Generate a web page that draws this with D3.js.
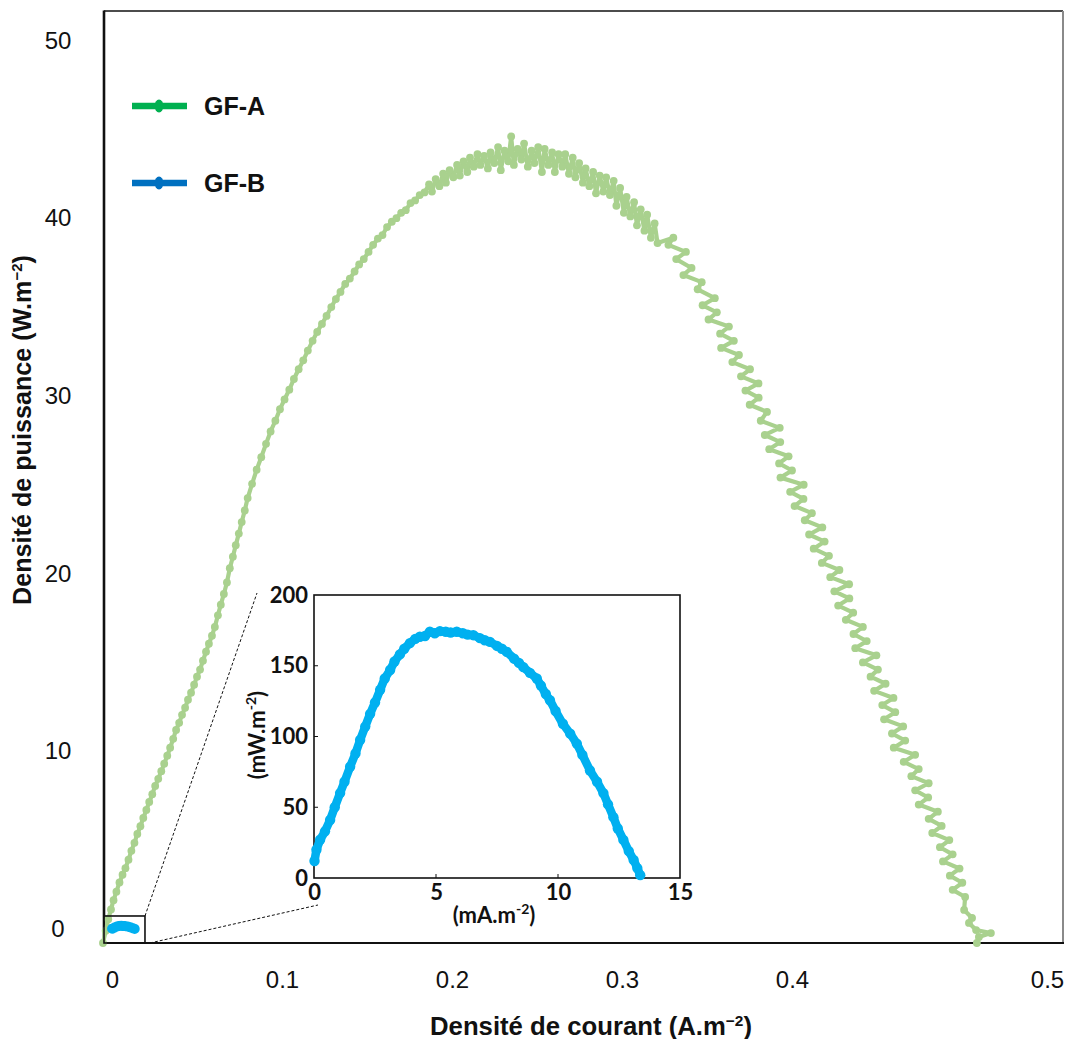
<!DOCTYPE html>
<html><head><meta charset="utf-8">
<script src="https://cdn.jsdelivr.net/npm/d3@7"></script>
<style>body{margin:0;background:#fff}svg{display:block}</style>
</head><body><svg id="c" width="1069" height="1039"></svg>
<script>
// ---- data ----
const xTicks = [0, 0.1, 0.2, 0.3, 0.4, 0.5];
const yTicks = [0, 10, 20, 30, 40, 50];
const insetXTicks = [0, 5, 10, 15];
const insetYTicks = [0, 50, 100, 150, 200];
const seriesNames = ["GF-A", "GF-B"];

// GF-A : current density (A.m-2) / power density (W.m-2)
const gfaCurrent = [
-0.0053,-0.0037,-0.0022,-0.0006,0.0009,0.0026,0.0044,0.0062,0.0079,0.0097,0.0114,0.0132,0.0149,0.0167,0.0184,0.0202,0.0219,0.0237,0.0254,0.0272,0.0290,0.0307,0.0325,0.0342,0.0360,0.0377,0.0395,0.0412,0.0430,0.0447,0.0465,0.0483,0.0500,0.0518,0.0535,0.0553,0.0570,0.0588,0.0605,0.0623,0.0640,0.0658,0.0676,0.0693,0.0711,0.0728,0.0746,0.0763,0.0781,0.0798,0.0824,0.0851,0.0878,0.0906,0.0933,0.0961,0.0988,0.1015,0.1043,0.1070,0.1098,0.1125,0.1152,0.1180,0.1207,0.1235,0.1262,0.1290,0.1317,0.1344,0.1372,0.1399,0.1427,0.1454,0.1481,0.1509,0.1536,0.1564,0.1591,0.1618,0.1646,0.1673,0.1701,0.1728,0.1756,0.1783,0.1810,0.1838,
0.1865,0.1882,0.1904,0.1926,0.1948,0.1964,0.1986,0.2008,0.2030,0.2046,0.2068,0.2090,0.2106,0.2128,0.2150,0.2167,0.2189,0.2211,0.2227,0.2249,0.2271,0.2287,0.2309,0.2331,0.2348,0.2364,0.2386,0.2408,0.2424,0.2446,0.2468,0.2485,0.2507,0.2529,0.2545,0.2567,0.2589,0.2605,0.2627,0.2649,0.2666,0.2688,0.2710,0.2726,0.2748,0.2770,0.2786,0.2808,0.2830,0.2847,0.2869,0.2890,0.2907,0.2929,0.2951,0.2967,0.2989,0.3011,0.3027,0.3049,0.3071,0.3088,0.3110,0.3132,0.3148,0.3170,0.3192,0.3209,
0.3302,0.3273,0.3376,0.3319,0.3409,0.3361,0.3469,0.3445,0.3546,0.3474,0.3558,0.3509,0.3629,0.3577,0.3658,0.3583,0.3688,0.3649,0.3753,0.3700,0.3803,0.3726,0.3804,0.3751,0.3853,0.3816,0.3928,0.3840,0.3931,0.3866,0.3980,0.3924,0.4000,0.3932,0.4046,0.3989,0.4045,0.4010,0.4078,0.4050,0.4119,0.4067,0.4128,0.4085,0.4145,0.4117,0.4186,0.4150,0.4224,0.4166,0.4225,0.4181,0.4240,0.4211,0.4278,0.4241,0.4293,0.4248,0.4331,0.4278,0.4337,0.4308,0.4367,0.4322,0.4398,0.4354,0.4405,0.4361,0.4436,0.4392,0.4444,0.4399,0.4483,0.4438,0.4497,0.4468,0.4536,0.4483,0.4534,0.4497,0.4572,0.4536,0.4587,0.4550,0.4617,0.4580,0.4630,0.4592,0.4657,0.4619,0.4668,0.4630,0.4679,0.4675,0.4706,0.4694,0.4722,0.4780,0.4733,0.4725];
const gfaPower = [
-0.79,-0.10,0.55,1.10,1.62,2.10,2.62,3.05,3.42,3.90,4.40,4.85,5.35,5.78,6.25,6.70,7.15,7.58,8.05,8.45,8.88,9.30,9.75,10.20,10.70,11.20,11.60,12.05,12.45,12.90,13.30,13.75,14.20,14.60,15.10,15.60,16.05,16.50,17.00,17.65,18.25,18.85,19.50,20.30,20.95,21.60,22.25,22.90,23.55,24.25,25.05,25.85,26.55,27.30,28.00,28.60,29.25,29.80,30.35,30.95,31.50,32.00,32.55,33.10,33.60,34.05,34.50,35.00,35.45,35.85,36.30,36.60,37.00,37.40,37.70,38.10,38.50,38.85,39.05,39.50,39.80,40.00,40.30,40.45,40.85,41.00,41.30,41.45,
41.9,41.5,42.2,41.8,42.5,42.0,42.7,42.3,43.0,42.4,43.2,42.6,43.4,42.9,43.6,43.0,43.5,42.8,43.7,43.1,44.0,42.7,43.8,43.2,44.6,43.0,43.9,43.3,44.2,42.9,43.8,43.1,44.0,42.6,43.9,43.0,43.7,42.6,43.6,42.9,43.6,42.5,43.4,42.3,43.1,42.0,42.8,41.8,42.6,41.4,42.4,41.5,42.3,41.3,42.1,40.7,41.7,40.3,41.2,40.1,40.9,39.6,40.5,39.3,40.2,38.9,39.7,38.6,
38.9,38.5,38.1,37.7,37.2,36.8,36.4,36.0,35.5,35.1,34.7,34.3,33.9,33.5,33.1,32.7,32.3,31.9,31.5,31.1,30.7,30.3,29.9,29.5,29.1,28.6,28.2,27.8,27.4,27.0,26.6,26.2,25.8,25.4,25.0,24.6,24.2,23.8,23.4,23.0,22.6,22.2,21.8,21.4,21.0,20.6,20.2,19.8,19.4,19.0,18.6,18.2,17.8,17.4,17.0,16.6,16.2,15.8,15.4,15.0,14.6,14.2,13.8,13.4,13.0,12.6,12.2,11.8,11.4,11.0,10.6,10.2,9.8,9.4,9.0,8.6,8.2,7.8,7.4,7.0,6.6,6.2,5.8,5.4,5.0,4.6,4.2,3.8,3.4,3.0,2.6,2.2,1.8,1.07,0.62,0.34,-0.06,-0.23,-0.45,-0.79];

// GF-B : current density (mA.m-2) / power density (mW.m-2)
const gfbCurrent = [0.02,0.1,0.25,0.45,0.66,0.85,1.07,1.25,1.48,1.7,1.89,2.1,2.3,2.5,2.71,2.9,3.12,3.3,3.52,3.7,3.93,4.15,4.34,4.55,4.75,4.95,5.16,5.4,5.6,5.85,6.1,6.3,6.53,6.8,7.0,7.21,7.5,7.7,7.9,8.2,8.4,8.58,8.85,9.13,9.3,9.5,9.67,9.9,10.2,10.5,10.77,11.0,11.31,11.6,11.86,12.05,12.27,12.45,12.68,12.9,13.1,13.25,13.37];
const gfbPower = [12,20,27,33,41,50,60,68,78.6,88,97.5,107,116,124,133,141,147,153,158,162,166,169,170.5,171,174,173,174.5,174,173.5,174,173,172,171.6,169.5,168,166.9,164,162,159.8,155,152,149,145,141,136,130,125.6,118,109,102,95,87,76,68,60,52,43,35,26.9,19,12.7,7,2];

// ---- layout ----
const svg = d3.select("#c");
const M = {l:104, r:1063, t:11, b:943};
// the printed x tick labels are not evenly spaced: polylinear scale through them
const x = d3.scaleLinear().domain([-0.0047, 0, 0.4, 0.5, 0.5063]).range([M.l, 112, 792, 1047, M.r]);
const y = d3.scaleLinear().domain([-0.79, 51.66]).range([M.b, M.t]);

const green = "#a9d18e", blue = "#00b0f0";
const legendColors = ["#00b050", "#0070c0"];
const sans = "'Liberation Sans', Arial, sans-serif";

// frame
svg.append("line").attr("x1",M.l).attr("x2",M.r).attr("y1",M.t).attr("y2",M.t).attr("stroke","#111").attr("stroke-width",1.5);
svg.append("line").attr("x1",M.r).attr("x2",M.r).attr("y1",M.t).attr("y2",M.b).attr("stroke","#8a8a8a").attr("stroke-width",2);
svg.append("line").attr("x1",M.l).attr("x2",M.r+1).attr("y1",M.b).attr("y2",M.b).attr("stroke","#111").attr("stroke-width",2);
svg.append("line").attr("x1",M.l).attr("x2",M.l).attr("y1",M.t-0.5).attr("y2",M.b+1).attr("stroke","#111").attr("stroke-width",2.6);

// axes (labels only)
const fmt = d => String(d);
const gx = svg.append("g").attr("transform",`translate(0,${M.b})`)
  .call(d3.axisBottom(x).tickValues(xTicks).tickFormat(fmt).tickSize(0).tickPadding(28));
gx.select(".domain").remove();
gx.selectAll("text").attr("font-family",sans).attr("font-size",24).attr("fill","#111");
const gy = svg.append("g").attr("transform",`translate(${M.l},0)`)
  .call(d3.axisLeft(y).tickValues(yTicks).tickFormat(fmt).tickSize(0));
gy.select(".domain").remove();
gy.selectAll("text").attr("font-family",sans).attr("font-size",24).attr("fill","#111")
  .attr("text-anchor","middle").attr("x",-46);

// axis titles
function supTitle(g, main, tail, target){
  const t = g.append("text").attr("font-family",sans).attr("font-weight","bold")
    .attr("font-size",25).attr("fill","#111").attr("text-anchor","middle");
  t.append("tspan").text(main);
  t.append("tspan").attr("dy",-9).attr("font-size",15).text("\u22122");
  t.append("tspan").attr("dy",9).text(tail);
  const len = t.node().getComputedTextLength();
  t.attr("transform",`scale(${target/len},1)`);
  return t;
}
supTitle(svg.append("g").attr("transform","translate(591,1035)"),"Densité de courant (A.m",")",322);
supTitle(svg.append("g").attr("transform","translate(31,430) rotate(-90)"),"Densité de puissance (W.m",")",350);

// GF-A series
const nA = Math.min(gfaCurrent.length, gfaPower.length);
const gfa = d3.range(nA).map(i=>({c:gfaCurrent[i], p:gfaPower[i]}));
const line = d3.line().x(d=>x(d.c)).y(d=>y(d.p));
svg.append("path").datum(gfa).attr("d",line).attr("fill","none").attr("stroke",green).attr("stroke-width",4.2).attr("stroke-linejoin","round");
svg.append("g").selectAll("circle").data(gfa).join("circle").attr("cx",d=>x(d.c)).attr("cy",d=>y(d.p)).attr("r",3.9).attr("fill",green);

// GF-B on main axes (A.m-2, W.m-2)
const gfbMain = gfbCurrent.map((c,i)=>({c:c/1000, p:gfbPower[i]/1000}));
svg.append("path").datum(gfbMain).attr("d",line).attr("fill","none").attr("stroke",blue).attr("stroke-width",10).attr("stroke-linecap","round").attr("stroke-linejoin","round");

// zoom box + dashed connectors
const boxC = [-0.0047, 0.0194], boxP = [-0.79, 0.73];
svg.append("rect").attr("x",x(boxC[0])).attr("y",y(boxP[1])).attr("width",x(boxC[1])-x(boxC[0])).attr("height",y(boxP[0])-y(boxP[1]))
  .attr("fill","none").attr("stroke","#111").attr("stroke-width",1.6);

// inset
const I = {l:314, r:680, t:595, b:878};
const ix = d3.scaleLinear().domain([0,15]).range([I.l, I.r]);
const iy = d3.scaleLinear().domain([0,200]).range([I.b, I.t]);
svg.append("line").attr("x1",x(boxC[1])).attr("y1",y(boxP[1])).attr("x2",257).attr("y2",593)
  .attr("stroke","#111").attr("stroke-width",1).attr("stroke-dasharray","3,2");
svg.append("line").attr("x1",x(boxC[1])+5).attr("y1",y(boxP[0])).attr("x2",I.l+4).attr("y2",905)
  .attr("stroke","#111").attr("stroke-width",1).attr("stroke-dasharray","3,2");

const ig = svg.append("g");
ig.append("rect").attr("x",I.l).attr("y",I.t).attr("width",I.r-I.l).attr("height",I.b-I.t).attr("fill","#fff").attr("stroke","#111").attr("stroke-width",1.6);
const gfb = gfbCurrent.map((c,i)=>({c, p:gfbPower[i]}));
const iline = d3.line().x(d=>ix(d.c)).y(d=>iy(d.p));
ig.append("path").datum(gfb).attr("d",iline).attr("fill","none").attr("stroke",blue).attr("stroke-width",8.5).attr("stroke-linejoin","round");
ig.append("g").selectAll("circle").data(gfb).join("circle").attr("cx",d=>ix(d.c)).attr("cy",d=>iy(d.p)).attr("r",5.2).attr("fill",blue);

const ifont = "Lato, 'Open Sans', sans-serif";
const igx = ig.append("g").attr("transform",`translate(0,${I.b})`).call(d3.axisBottom(ix).tickValues(insetXTicks).tickSize(0).tickPadding(6));
igx.select(".domain").remove();
igx.selectAll("text").attr("font-family",ifont).attr("font-weight","bold").attr("font-size",22).attr("fill","#111");
const igy = ig.append("g").attr("transform",`translate(${I.l},0)`).call(d3.axisLeft(iy).tickValues(insetYTicks).tickSize(0).tickPadding(6));
igy.select(".domain").remove();
igy.selectAll("text").attr("font-family",ifont).attr("font-weight","bold").attr("font-size",22).attr("fill","#111");
// inner ticks
ig.append("g").selectAll("line").data(insetYTicks.slice(1,-1)).join("line").attr("x1",I.l).attr("x2",I.l+4).attr("y1",d=>iy(d)).attr("y2",d=>iy(d)).attr("stroke","#111");
ig.append("g").selectAll("line").data(insetXTicks.slice(1,-1)).join("line").attr("y1",I.b).attr("y2",I.b-4).attr("x1",d=>ix(d)).attr("x2",d=>ix(d)).attr("stroke","#111");

function iTitle(g, main){
  const t = g.append("text").attr("font-family",ifont).attr("font-weight","bold").attr("font-size",22).attr("fill","#111").attr("text-anchor","middle");
  t.append("tspan").text(main);
  t.append("tspan").attr("dy",-9).attr("font-size",14).text("-2");
  t.append("tspan").attr("dy",9).text(")");
}
iTitle(svg.append("g").attr("transform","translate(494,923)"),"(mA.m");
iTitle(svg.append("g").attr("transform","translate(265,735) rotate(-90)"),"(mW.m");

// legend
const lg = svg.append("g");
seriesNames.forEach((n,i)=>{
  const yy = 106 + i*77;
  lg.append("line").attr("x1",132).attr("x2",187).attr("y1",yy).attr("y2",yy).attr("stroke",legendColors[i]).attr("stroke-width",6.5);
  lg.append("ellipse").attr("cx",159).attr("cy",yy).attr("rx",4.5).attr("ry",6.5).attr("fill",legendColors[i]);
  lg.append("text").attr("x",204).attr("y",yy+9).attr("font-family",sans).attr("font-weight","bold")
    .attr("font-size",25).attr("fill","#111").text(n);
});
</script></body></html>
